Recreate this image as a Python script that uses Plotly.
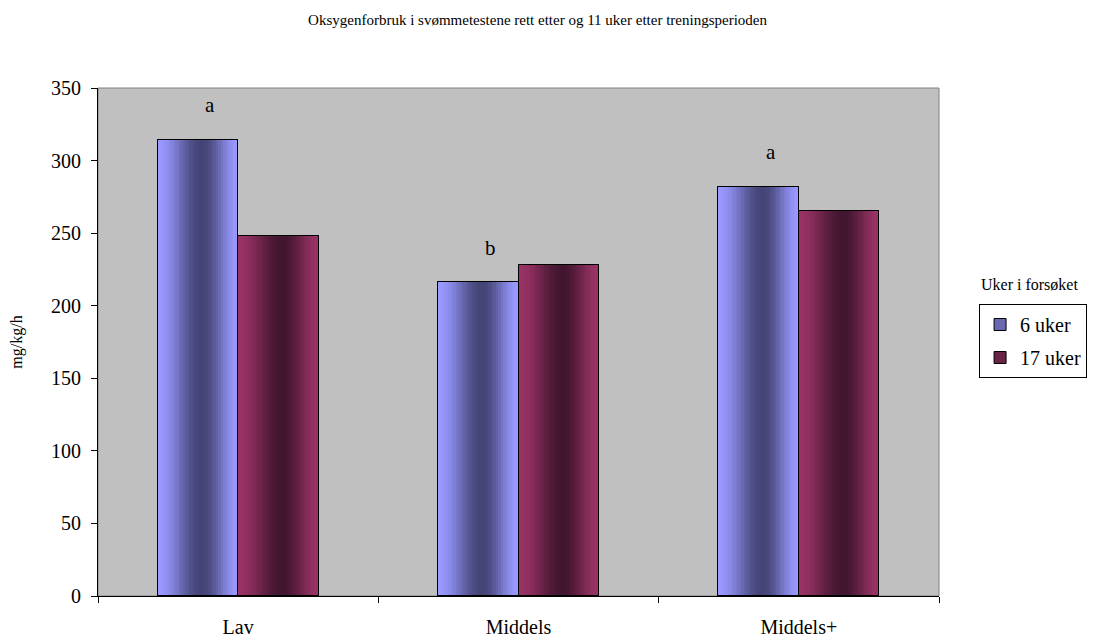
import plotly.graph_objects as go

categories = ["Lav", "Middels", "Middels+"]
series_names = ["6 uker", "17 uker"]
values_6 = [314, 216, 282]
values_17 = [248, 228, 265]
letters_6 = ["a", "b", "a"]
y_ticks = [0, 50, 100, 150, 200, 250, 300, 350]

FONT = "Liberation Serif"
BAR_W = 0.287
N_STRIPS = 32

edge_cols = [(153, 153, 255), (153, 51, 102)]
dark_cols = [(68, 68, 118), (66, 22, 46)]
offsets0 = [-BAR_W, 0.0]
all_vals = [values_6, values_17]


def shade(t, edge, dark, p=0.55):
    d = (p - t) / p if t < p else (t - p) / (1 - p)
    d = max(0.0, min(1.0, d))
    s = d * d * (3 - 2 * d)  # smoothstep
    return "rgb(%d,%d,%d)" % tuple(round(dk + (e - dk) * s) for e, dk in zip(edge, dark))


fig = go.Figure()

for k in range(2):
    mid_col = shade(0.3, edge_cols[k], dark_cols[k])
    fig.add_trace(go.Bar(
        x=categories, y=all_vals[k], name=series_names[k],
        width=BAR_W, offset=offsets0[k],
        marker=dict(color=mid_col, line=dict(color="black", width=1)),
        legendgroup=series_names[k], showlegend=True, hoverinfo="skip",
    ))
    step = BAR_W / N_STRIPS
    for i in range(N_STRIPS):
        t = (i + 0.5) / N_STRIPS
        fig.add_trace(go.Bar(
            x=categories, y=all_vals[k],
            width=BAR_W - i * step, offset=offsets0[k] + i * step,
            marker=dict(color=shade(t, edge_cols[k], dark_cols[k]), line=dict(width=0)),
            showlegend=False, hoverinfo="skip", legendgroup=series_names[k],
        ))
    fig.add_trace(go.Bar(
        x=categories, y=all_vals[k], width=BAR_W, offset=offsets0[k],
        marker=dict(color="rgba(0,0,0,0)", line=dict(color="black", width=1)),
        showlegend=False, name=series_names[k], legendgroup=series_names[k],
    ))

for i, (c, v, l) in enumerate(zip(categories, values_6, letters_6)):
    fig.add_annotation(x=i - 0.1, y=v + 24, text=l, showarrow=False,
                       font=dict(family=FONT, size=21, color="black"))

fig.add_annotation(text="Uker i forsøket", xref="paper", yref="paper",
                   x=1.108, y=0.613, showarrow=False, xanchor="center",
                   font=dict(family=FONT, size=16, color="black"))

fig.update_layout(
    width=1097, height=641,
    barmode="overlay",
    paper_bgcolor="white", plot_bgcolor="#C0C0C0",
    margin=dict(l=98, r=158, t=88, b=45, autoexpand=False),
    font=dict(family=FONT, color="black"),
    title=dict(text="Oksygenforbruk i svømmetestene rett etter og 11 uker etter treningsperioden",
               x=0.49, xref="container", xanchor="center", y=0.978, yref="container",
               font=dict(family=FONT, size=15, color="black")),
    legend=dict(x=0.8925, y=0.5257, xref="container", yref="container",
                xanchor="left", yanchor="top",
                bordercolor="black", borderwidth=1, bgcolor="white",
                font=dict(family=FONT, size=20, color="black"),
                traceorder="grouped", tracegroupgap=4, itemclick=False),
    showlegend=True,
    bargap=0,
)

fig.update_xaxes(type="category", range=[-0.5, 2.5], showline=True, linecolor="black",
                 linewidth=1, ticks="outside", tickson="boundaries", ticklen=6,
                 tickcolor="black", showgrid=False, tickfont=dict(family=FONT, size=20),
                 ticklabelstandoff=13, automargin=False)
fig.update_yaxes(range=[0, 350], tickvals=y_ticks, showline=True, linecolor="black",
                 linewidth=1, ticks="outside", ticklen=6, tickcolor="black",
                 showgrid=False, zeroline=False, tickfont=dict(family=FONT, size=20),
                 ticklabelstandoff=6, automargin=False,
                 title=dict(text="mg/kg/h", font=dict(family=FONT, size=16), standoff=24))

fig.add_shape(type="rect", xref="paper", yref="paper", x0=0, y0=0, x1=1, y1=1,
              line=dict(color="#808080", width=1), fillcolor="rgba(0,0,0,0)", layer="below")

fig.write_html("out.html", config={"displayModeBar": False},
               post_script="document.body.style.margin='0';")
